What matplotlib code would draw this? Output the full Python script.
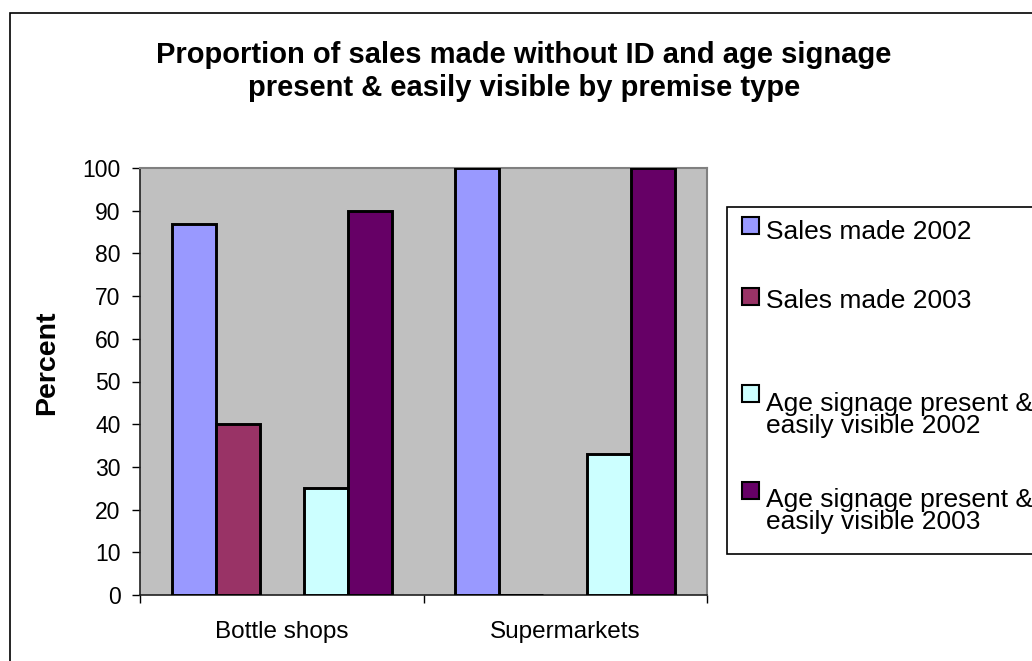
import matplotlib
matplotlib.use('Agg')
import matplotlib.pyplot as plt
from matplotlib.patches import Rectangle
import numpy as np

plt.rcParams['font.family'] = ['Liberation Sans', 'DejaVu Sans']

# data
premises = ['Bottle shops', 'Supermarkets']
series_names = ['Sales made 2002', 'Sales made 2003', '',
                'Age signage present &\neasily visible 2002',
                'Age signage present &\neasily visible 2003']
sales_2002 = [87, 100]
sales_2003 = [40, 0]
signage_2002 = [25, 33]
signage_2003 = [90, 100]
colors = ['#9999FF', '#993366', None, '#CCFFFF', '#660066']
title_lines = ['Proportion of sales made without ID and age signage',
               'present & easily visible by premise type']

W, H = 1032, 661
fig = plt.figure(figsize=(W / 100, H / 100), dpi=100)

def fx(px):
    return px / W

def fy(py):
    return 1 - py / H

# outer chart border
fig.add_artist(Rectangle((fx(10), fy(700)), fx(1100), fy(12.5) - fy(700),
                         transform=fig.transFigure, fill=False,
                         edgecolor='black', linewidth=1.2))

ax = fig.add_axes([fx(140), fy(595), fx(707) - fx(140), fy(168) - fy(595)])
ax.set_facecolor('#C0C0C0')

x = np.arange(len(premises))
w = 44 / 283.5
series = [sales_2002, sales_2003, None, signage_2002, signage_2003]
for k, vals in enumerate(series):
    if vals is None:
        continue  # empty slot in the group
    ax.bar(x + (k - 2) * w, vals, w, color=colors[k], edgecolor='black',
           linewidth=2.1, zorder=3)

ax.set_xlim(-0.5, 1.5)
ax.set_ylim(0, 100)
ax.set_yticks(range(0, 101, 10))
ax.set_xticks(x)
ax.set_xticklabels(premises, fontsize=17.5)
ax.set_xticks([-0.5, 0.5, 1.5], minor=True)
ax.tick_params(axis='x', which='major', length=0, pad=19)
ax.tick_params(axis='x', which='minor', length=6, width=1, direction='out')
ax.tick_params(axis='y', labelsize=16.5, length=6, width=1, pad=8)

for side in ['top', 'right']:
    ax.spines[side].set_color('#808080')
    ax.spines[side].set_linewidth(1.5)
for side in ['left', 'bottom']:
    ax.spines[side].set_color('#202020')
    ax.spines[side].set_linewidth(1.2)

for i, line in enumerate(title_lines):
    fig.text(fx(524), fy(63 + 33 * i), line, ha='center', va='baseline',
             fontsize=21, fontweight='bold')
fig.text(fx(47), fy(363), 'Percent', rotation=90, ha='center', va='center',
         fontsize=20.5, fontweight='bold')

# legend box, running past the right edge
fig.add_artist(Rectangle((fx(727), fy(554)), fx(1100) - fx(727), fy(207) - fy(554),
                         transform=fig.transFigure, facecolor='white',
                         edgecolor='black', linewidth=1.2))
marker_tops = [217, 288, None, 385, 482]
baselines = [239, 308, None, 411, 507]
for k, name in enumerate(series_names):
    if not name:
        continue
    fig.add_artist(Rectangle((fx(742), fy(marker_tops[k] + 17)), fx(17), fy(0) - fy(17),
                             transform=fig.transFigure, facecolor=colors[k],
                             edgecolor='black', linewidth=1.5))
    for j, line in enumerate(name.split('\n')):
        fig.text(fx(766), fy(baselines[k] + 22 * j), line, ha='left',
                 va='baseline', fontsize=19)

fig.savefig('out.png', dpi=100)
